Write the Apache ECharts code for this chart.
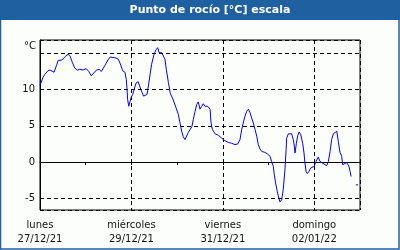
<!DOCTYPE html>
<html>
<head>
<meta charset="utf-8">
<script src="https://cdn.jsdelivr.net/npm/echarts@6/dist/echarts.min.js"></script>
<style>html,body{margin:0;padding:0;background:#fcfefc}#c{width:400px;height:250px}</style>
</head>
<body>
<div id="c"></div>
<script>
const titleText = 'Punto de rocío [°C] escala';
const unitLabel = '°C';
const yTickLabels = ['-5', '0', '5', '10'];
const dayNames = ['lunes', 'miércoles', 'viernes', 'domingo'];
const dateLabels = ['27/12/21', '29/12/21', '31/12/21', '02/01/22'];
// hours since 27/12/21 00:00
const hours = [0,1.6,2.5,4.2,5.3,5.9,7.4,8.6,9.5,10.5,11.6,13.0,14.7,15.8,17.0,18.2,19.6,20.8,22.6,24.3,25.6,26.9,27.8,29.6,31.0,32.2,34.0,35.7,36.8,39.4,41.1,42.4,43.4,44.6,45.3,45.7,46.0,46.6,47.3,47.8,48.7,49.4,50.4,51.5,52.3,53.4,54.4,55.3,56.2,56.9,57.8,58.6,59.9,60.9,61.8,62.5,63.2,63.9,64.9,65.6,66.3,67.4,68.4,70.0,71.4,72.6,73.5,74.4,75.2,76.1,77.0,77.9,78.8,79.8,80.5,81.4,82.3,83.1,84.0,84.9,85.7,86.6,88.0,89.3,89.8,90.5,91.9,93.6,95.4,97.1,98.9,100.6,102.4,103.8,105.0,105.9,106.7,107.6,108.5,109.4,110.3,111.1,112.0,112.9,113.8,114.6,115.5,116.4,118.1,119.5,120.8,121.6,122.5,123.0,123.7,124.6,125.5,126.0,126.9,127.7,128.6,129.2,129.5,130.4,131.3,132.1,133.0,133.5,133.9,134.6,135.3,136.0,136.9,137.9,138.6,139.1,139.7,140.3,141.2,142.1,143.0,143.9,144.9,146.1,147.0,147.9,149.1,150.5,151.4,152.3,153.1,154.0,154.9,155.8,156.6,157.5,158.4,158.9,159.8,161.0,161.6,162.2,162.8,163.3,164.5,165.8,167.0];
const dewPoint = [10.6,11.7,12.1,12.6,12.7,12.5,12.4,13.3,14.0,13.9,14.1,14.5,14.9,14.6,13.75,13.0,12.7,12.8,12.7,12.9,12.5,11.9,12.1,12.7,12.8,12.5,13.3,14.1,14.5,14.4,14.2,13.4,12.6,12.4,11.4,10.0,8.65,7.7,7.96,8.9,9.35,10.0,10.9,11.1,10.5,9.7,9.1,8.9,9.35,10.5,12.1,13.5,14.9,15.5,15.8,15.1,15.0,15.1,15.0,14.2,12.8,11.0,9.5,8.55,7.5,6.6,5.4,4.25,3.5,3.1,3.3,4.1,4.5,4.95,5.9,7.0,7.96,8.3,7.3,7.7,8.05,7.7,7.7,7.3,5.4,4.5,3.9,3.7,3.3,2.95,2.7,2.6,2.4,2.5,3.1,4.5,5.4,6.3,7.0,7.3,6.8,6.1,5.4,4.5,3.55,2.4,1.8,1.47,1.33,1.1,0.78,0.08,-0.6,-1.76,-2.9,-4.1,-5.1,-5.5,-5.2,-3.8,-1.07,1.7,3.3,3.9,4.1,3.9,3.1,2.2,1.25,2.6,3.65,4.15,3.8,2.6,1.25,-0.14,-1.3,-1.6,-1.3,-0.83,-0.97,-0.6,0.08,0.69,0.08,-0.14,-0.28,-0.5,0.08,1.47,3.1,3.9,4.1,4.25,2.86,1.33,0.78,-0.37,-0.24,-0.06,0.08,-0.6,-1.3,-2.0,null,-3.15,-3.15];

const seriesData = hours.map((h, i) => [h, dewPoint[i]]);
const FONT = 'DejaVu Sans';
const chart = echarts.init(document.getElementById('c'), null, {renderer: 'canvas'});
chart.setOption({
  backgroundColor: '#fcfefc',
  animation: false,
  grid: {left: 40, right: 40, top: 40, bottom: 40, show: true, borderColor: '#000', borderWidth: 1, backgroundColor: 'transparent'},
  xAxis: [
    {type: 'value', min: 0, max: 168, interval: 24,
     axisLine: {show: true, lineStyle: {color: '#000', width: 1}},
     axisTick: {show: true, length: 3, lineStyle: {color: '#000'}},
     axisLabel: {show: false}, splitLine: {show: false}},
    {type: 'value', min: 0, max: 168, interval: 48, position: 'bottom',
     axisLine: {show: false}, axisTick: {show: false},
     splitLine: {show: true, lineStyle: {color: '#000', type: [4, 3], width: 1}},
     axisLabel: {show: true, margin: 8, color: '#111', fontFamily: FONT, fontSize: 10, lineHeight: 14,
       formatter: v => { const i = Math.round(v / 48); return (v % 48 === 0 && i < dayNames.length) ? dayNames[i] + '\n' + dateLabels[i] : ''; }}}
  ],
  yAxis: {type: 'value', min: -6.62, max: 16.85, splitNumber: 5,
    axisLine: {show: true, lineStyle: {color: '#000'}}, axisTick: {show: false},
    axisLabel: {margin: 5, color: '#111', fontFamily: FONT, fontSize: 10, showMinLabel: false, showMaxLabel: false,
      formatter: v => yTickLabels.includes(String(v)) ? String(v) : ''},
    splitLine: {show: true, lineStyle: {color: '#000', type: [4, 3], width: 1}}},
  graphic: [
    {type: 'rect', shape: {x: 0, y: 0, width: 400, height: 20}, style: {fill: '#1f60a0'}, z: 10},
    {type: 'rect', shape: {x: 0.5, y: 0.5, width: 398.5, height: 248.5}, style: {fill: 'none', stroke: '#1f60a0', lineWidth: 1.5}, z: 10},
    {type: 'text', x: 210, y: 10, z: 11, style: {text: titleText, fill: '#fff', font: 'bold 11px "DejaVu Sans"', align: 'center', verticalAlign: 'middle'}},
    {type: 'text', x: 36, y: 46, z: 11, style: {text: unitLabel, fill: '#111', font: '10px "DejaVu Sans"', align: 'right', verticalAlign: 'middle'}}
  ],
  series: [{type: 'line', xAxisIndex: 0, data: seriesData, showSymbol: false, symbol: 'none', connectNulls: false,
    lineStyle: {color: '#0000ff', width: 1}, z: 5}]
});
</script>
</body>
</html>
